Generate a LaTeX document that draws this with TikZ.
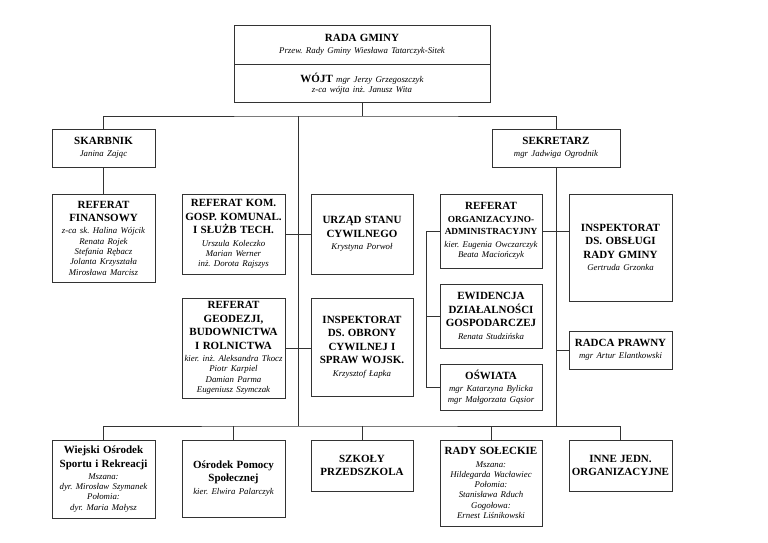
\documentclass[tikz,border=0pt]{standalone}
\usepackage{fontspec}
\setmainfont{Liberation Serif}
\usetikzlibrary{positioning}
\setlength{\parindent}{0pt}
\frenchspacing
\newcommand{\unitname}[1]{{\fontsize{11}{13.5}\selectfont\bfseries #1\par}}
\newcommand{\unitnarrow}[1]{{\fontsize{9.3}{12.5}\selectfont\bfseries #1\par}}
\newcommand{\staff}[1]{{\vskip2pt\fontsize{8.8}{10.3}\selectfont\itshape #1\par}}
\tikzset{
  unitbox/.style 2 args={draw=black!80, line width=0.9pt, align=center, inner xsep=0pt, inner ysep=1pt,
                         text width=#1, minimum height=#2},
  link/.style={draw=black!80, line width=0.7pt},
}

\begin{document}
\begin{tikzpicture}[x=1pt, y=-1pt]
\useasboundingbox (0,0) rectangle (768,543);
%Nodes
\node[unitbox={256pt}{39pt}] (rada) at (362,44.5) {\unitname{RADA GMINY}\staff{Przew. Rady Gminy Wiesława Tatarczyk-Sitek}};
\node[unitbox={256pt}{38pt}] (wojt) [below=0pt of rada] {{\fontsize{11}{13.5}\selectfont\bfseries WÓJT} {\fontsize{8.8}{10.3}\selectfont\itshape mgr Jerzy Grzegoszczyk}\par
  {\fontsize{8.8}{10.3}\selectfont\itshape z-ca wójta inż. Janusz Wita\par}};
\node[unitbox={103pt}{38pt}] (skarbnik) at (103.5,148) {\unitname{SKARBNIK}\staff{Janina Zając}};
\node[unitbox={128pt}{38pt}] (sekretarz) at (556,148) {\unitname{SEKRETARZ}\staff{mgr Jadwiga Ogrodnik}};

\node[unitbox={103pt}{88pt}] (fin) at (103.5,238) {\unitname{REFERAT\\FINANSOWY}\staff{z-ca sk. Halina Wójcik\\Renata Rojek\\Stefania Rębacz\\Jolanta Krzyształa\\Mirosława Marcisz}};
\node[unitbox={103pt}{80pt}] (kom) at (233.5,234) {\unitname{REFERAT KOM.\\GOSP. KOMUNAL.\\I SŁUŻB TECH.}\staff{Urszula Koleczko\\Marian Werner\\inż. Dorota Rajszys}};
\node[unitbox={102pt}{80pt}] (usc) at (362,234) {\unitname{URZĄD STANU\\CYWILNEGO}\staff{Krystyna Porwoł}};
\node[unitbox={102pt}{74pt}] (org) at (491,231) {\unitname{REFERAT}\unitnarrow{ORGANIZACYJNO-\\ADMINISTRACYJNY}\staff{kier. Eugenia Owczarczyk\\Beata Maciończyk}};
\node[unitbox={103pt}{107pt}] (obslugi) at (620.5,247.5) {\unitname{INSPEKTORAT\\DS. OBSŁUGI\\RADY GMINY}\staff{Gertruda Grzonka}};

\node[unitbox={103pt}{100pt}] (geo) at (233.5,348) {\unitname{REFERAT\\GEODEZJI,\\BUDOWNICTWA\\I ROLNICTWA}\staff{kier. inż. Aleksandra Tkocz\\Piotr Karpiel\\Damian Parma\\Eugeniusz Szymczak}};
\node[unitbox={102pt}{98pt}] (obrona) at (362,347) {\unitname{INSPEKTORAT\\DS. OBRONY\\CYWILNEJ I\\SPRAW WOJSK.}\staff{Krzysztof Łapka}};
\node[unitbox={102pt}{64pt}] (ewid) at (491,316) {\unitname{EWIDENCJA\\DZIAŁALNOŚCI\\GOSPODARCZEJ}\staff{Renata Studzińska}};
\node[unitbox={102pt}{46pt}] (oswiata) at (491,387) {\unitname{OŚWIATA}\staff{mgr Katarzyna Bylicka\\mgr Małgorzata Gąsior}};
\node[unitbox={103pt}{38pt}] (radca) at (620.5,350) {\unitname{RADCA PRAWNY}\staff{mgr Artur Elantkowski}};

\node[unitbox={103pt}{78pt}] (wiejski) at (103.5,479) {\unitname{Wiejski Ośrodek\\Sportu i Rekreacji}\staff{Mszana:\\dyr. Mirosław Szymanek\\Połomia:\\dyr. Maria Małysz}};
\node[unitbox={103pt}{77pt}] (ops) at (233.5,478.5) {\unitname{Ośrodek Pomocy\\Społecznej}\staff{kier. Elwira Palarczyk}};
\node[unitbox={102pt}{51pt}] (szkoly) at (362,465.5) {\unitname{SZKOŁY\\PRZEDSZKOLA}};
\node[unitbox={102pt}{86pt}] (rady) at (491,483) {\unitname{RADY SOŁECKIE}\staff{Mszana:\\Hildegarda Wacławiec\\Połomia:\\Stanisława Rduch\\Gogołowa:\\Ernest Liśnikowski}};
\node[unitbox={103pt}{51pt}] (inne) at (620.5,465.5) {\unitname{INNE JEDN.\\ORGANIZACYJNE}};

%Lines
\coordinate (hub) at (362,116);
\coordinate (spine) at (298,116);
\coordinate (floor) at (298,426);
\draw[link] (wojt.south) -- (hub);
\draw[link] (skarbnik.north) |- (hub) -| (sekretarz.north);
\draw[link] (spine) -- (floor);
\draw[link] (skarbnik.south) -- (fin.north);
\draw[link] (kom.east) -- (kom.east -| usc.west);
\draw[link] (geo.east) -- (geo.east -| obrona.west);
\draw[link] (sekretarz.south) -- (sekretarz.south |- floor);
\draw[link] (org.east) -- (org.east -| obslugi.west);
\draw[link] (radca.west) -- (radca.west -| sekretarz.south);
\draw[link] (org.west) -- ++(-13,0) coordinate (bracket) |- (oswiata.west);
\draw[link] (ewid.west) -- (ewid.west -| bracket);
\draw[link] (wiejski.north) |- (floor) -| (inne.north);
\draw[link] (ops.north) -- (ops.north |- floor);
\draw[link] (szkoly.north) -- (szkoly.north |- floor);
\draw[link] (rady.north) -- (rady.north |- floor);
\end{tikzpicture}
\end{document}
